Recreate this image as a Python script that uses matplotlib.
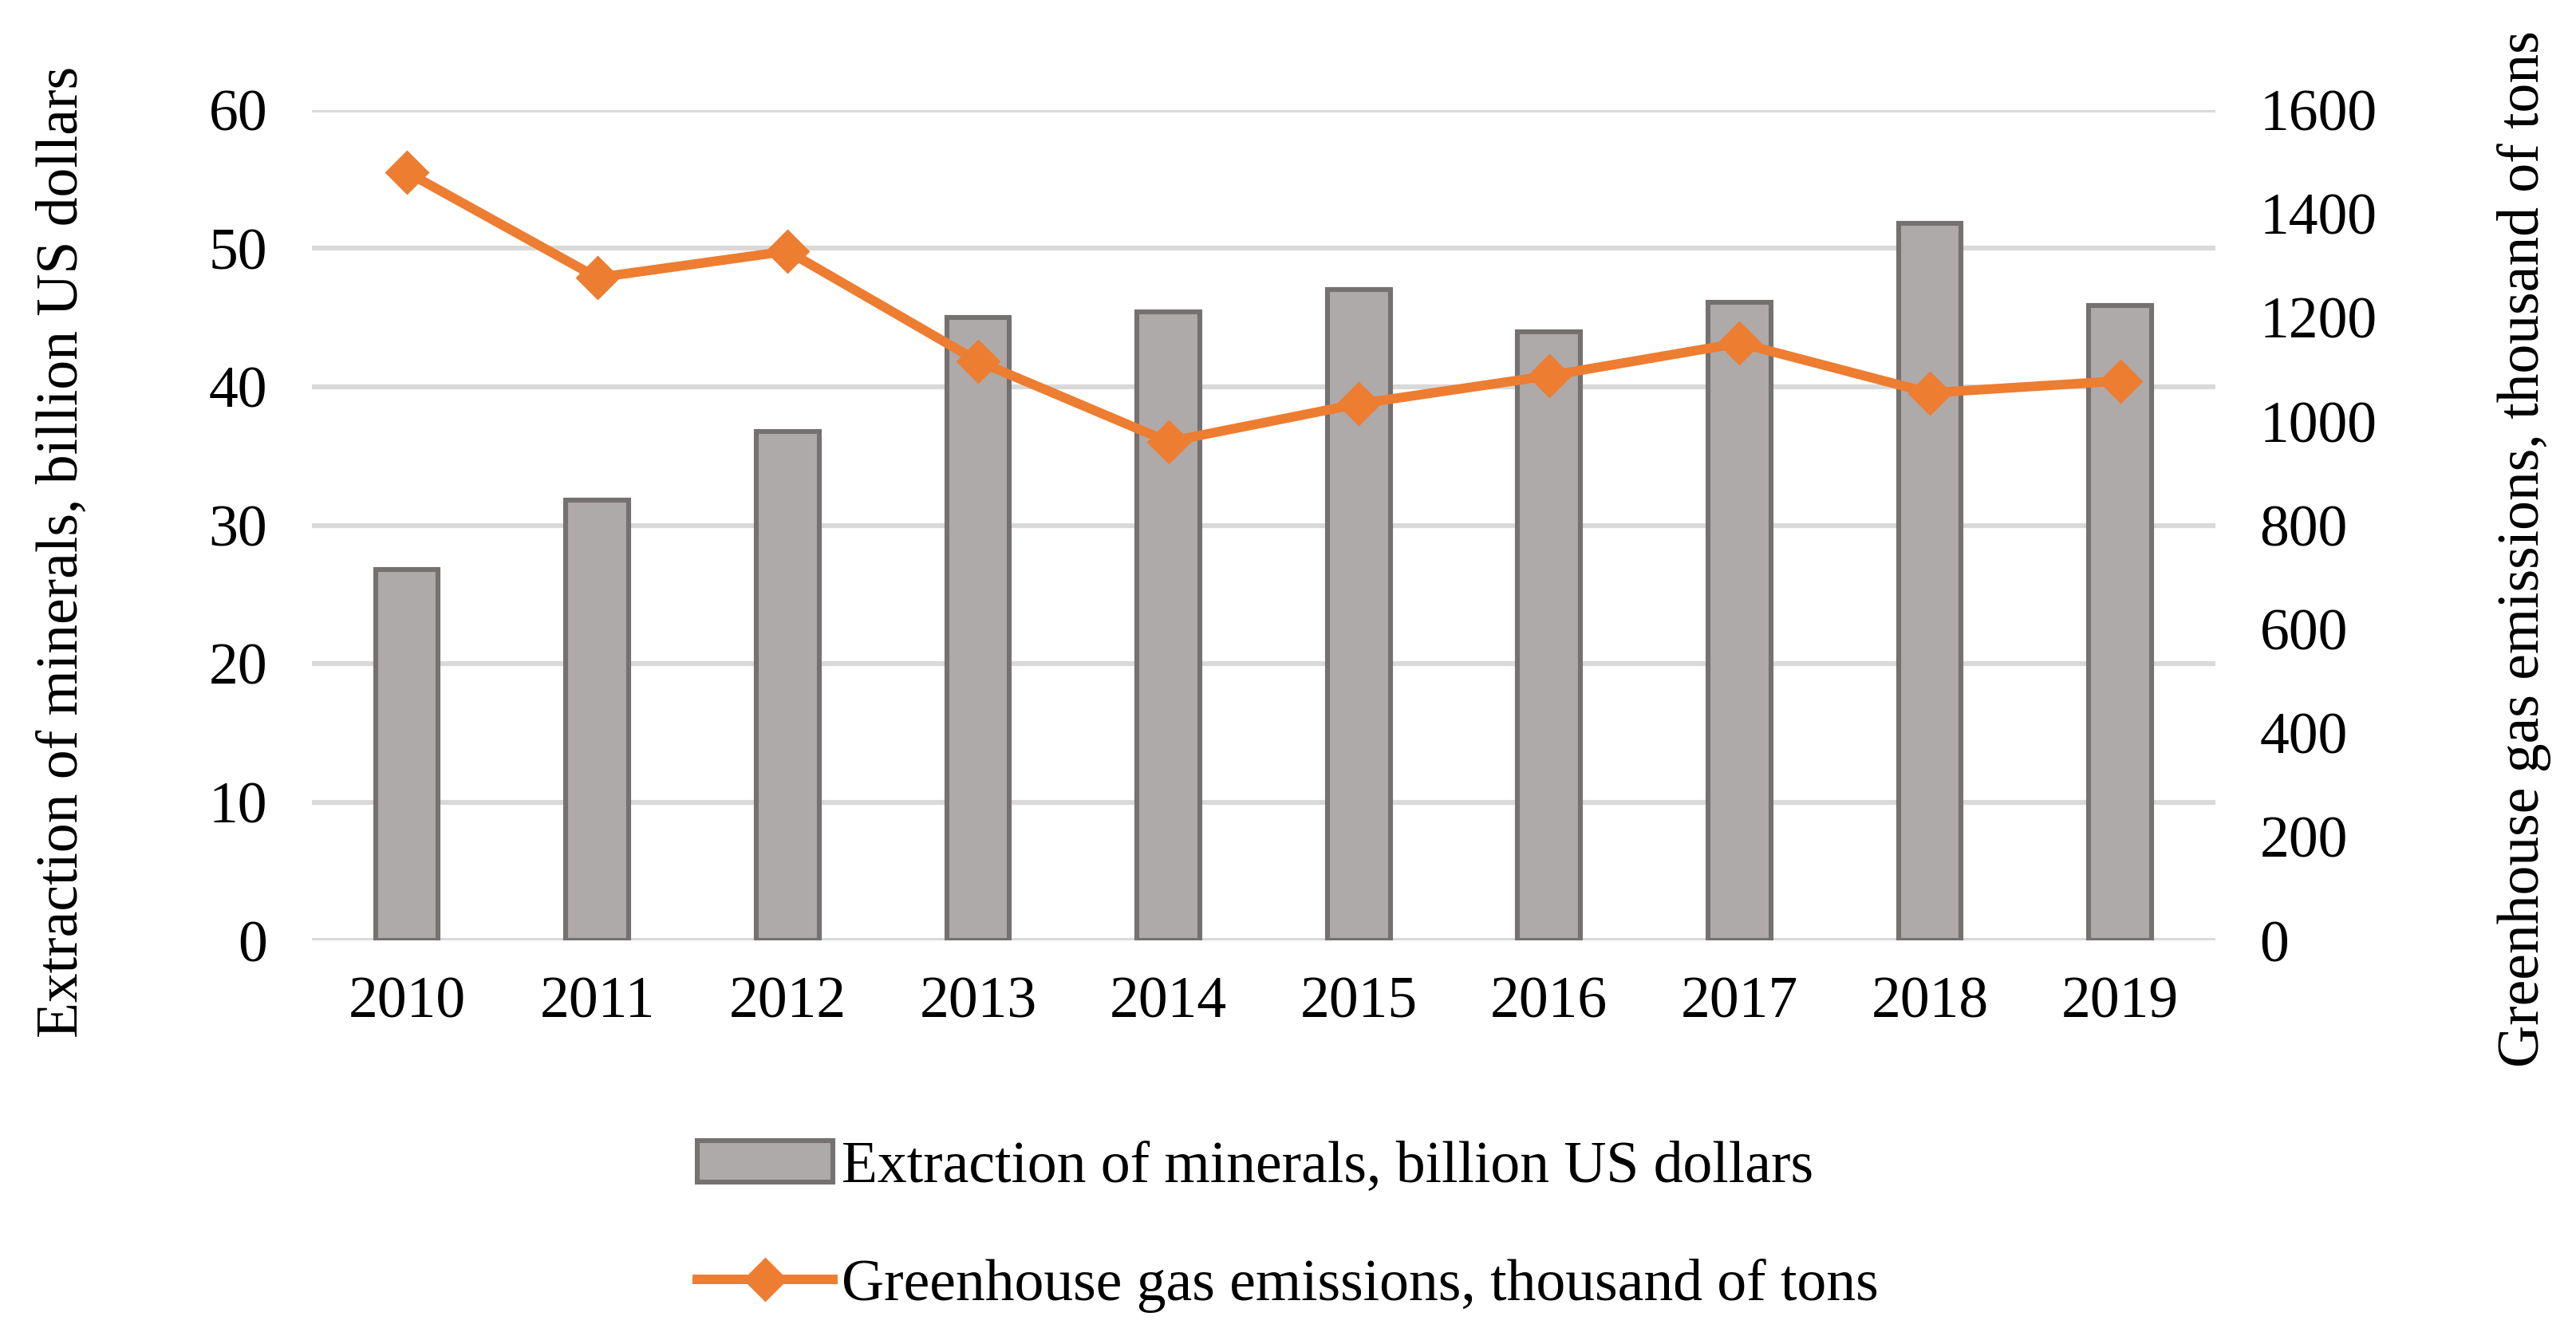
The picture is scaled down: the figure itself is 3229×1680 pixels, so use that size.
"""
Mineral extraction vs greenhouse gas emissions, 2010-2019.
"""

# Imports #
import numpy as np
from matplotlib import pyplot as plt

# Data #
years = ["2010", "2011", "2012", "2013", "2014", "2015", "2016", "2017", "2018", "2019"]
extraction = [26.8, 31.8, 36.8, 45.0, 45.4, 47.0, 44.0, 46.1, 51.8, 45.9]
emissions = [1480, 1277, 1328, 1116, 961, 1034, 1088, 1151, 1055, 1078]

bar_label = "Extraction of minerals, billion US dollars"
line_label = "Greenhouse gas emissions, thousand of tons"

plt.rcParams['font.family'] = ['Liberation Serif', 'DejaVu Serif']
fs = 26.5

fig = plt.figure(figsize=(16.145, 8.4), dpi=200)
ax = fig.add_axes([0.121, 0.298, 0.739, 0.62])
ax2 = ax.twinx()

x = np.arange(len(years))

# Bars on the left axis
bars = ax.bar(x, extraction, width=0.33, color='#AEAAAA', edgecolor='#767171',
              linewidth=2.2, label=bar_label, zorder=3)
ax.set_ylim(0, 60)
ax.set_yticks(np.arange(0, 61, 10))
ax.set_xlim(-0.5, len(years) - 0.5)
ax.set_xticks(x)
ax.set_xticklabels(years)
ax.yaxis.grid(True, color='#D9D9D9', linewidth=2.2, zorder=0)
ax.set_axisbelow(True)

# Line on the right axis
line, = ax2.plot(x, emissions, color='#ED7D31', linewidth=4.3, marker='D',
                 markersize=13, label=line_label, zorder=4)
ax2.set_ylim(0, 1600)
ax2.set_yticks(np.arange(0, 1601, 200))

for a in (ax, ax2):
    for s in a.spines.values():
        s.set_visible(False)
    a.tick_params(length=0, labelsize=fs)
ax.tick_params(axis='y', pad=20)
ax.tick_params(axis='x', pad=16)
ax2.tick_params(axis='y', pad=20)

ax.set_ylabel(bar_label, fontsize=fs)
ax.yaxis.set_label_coords(-0.1165, 0.468)
ax2.set_ylabel(line_label, fontsize=fs)
ax2.yaxis.set_label_coords(1.148, 0.472)

fig.legend([bars, line], [bar_label, line_label], loc='upper center',
           bbox_to_anchor=(0.5, 0.188), ncol=1, frameon=False, fontsize=fs,
           handlelength=2.3, handletextpad=0.15, labelspacing=1.09)

fig.savefig("out.png", dpi=200)
